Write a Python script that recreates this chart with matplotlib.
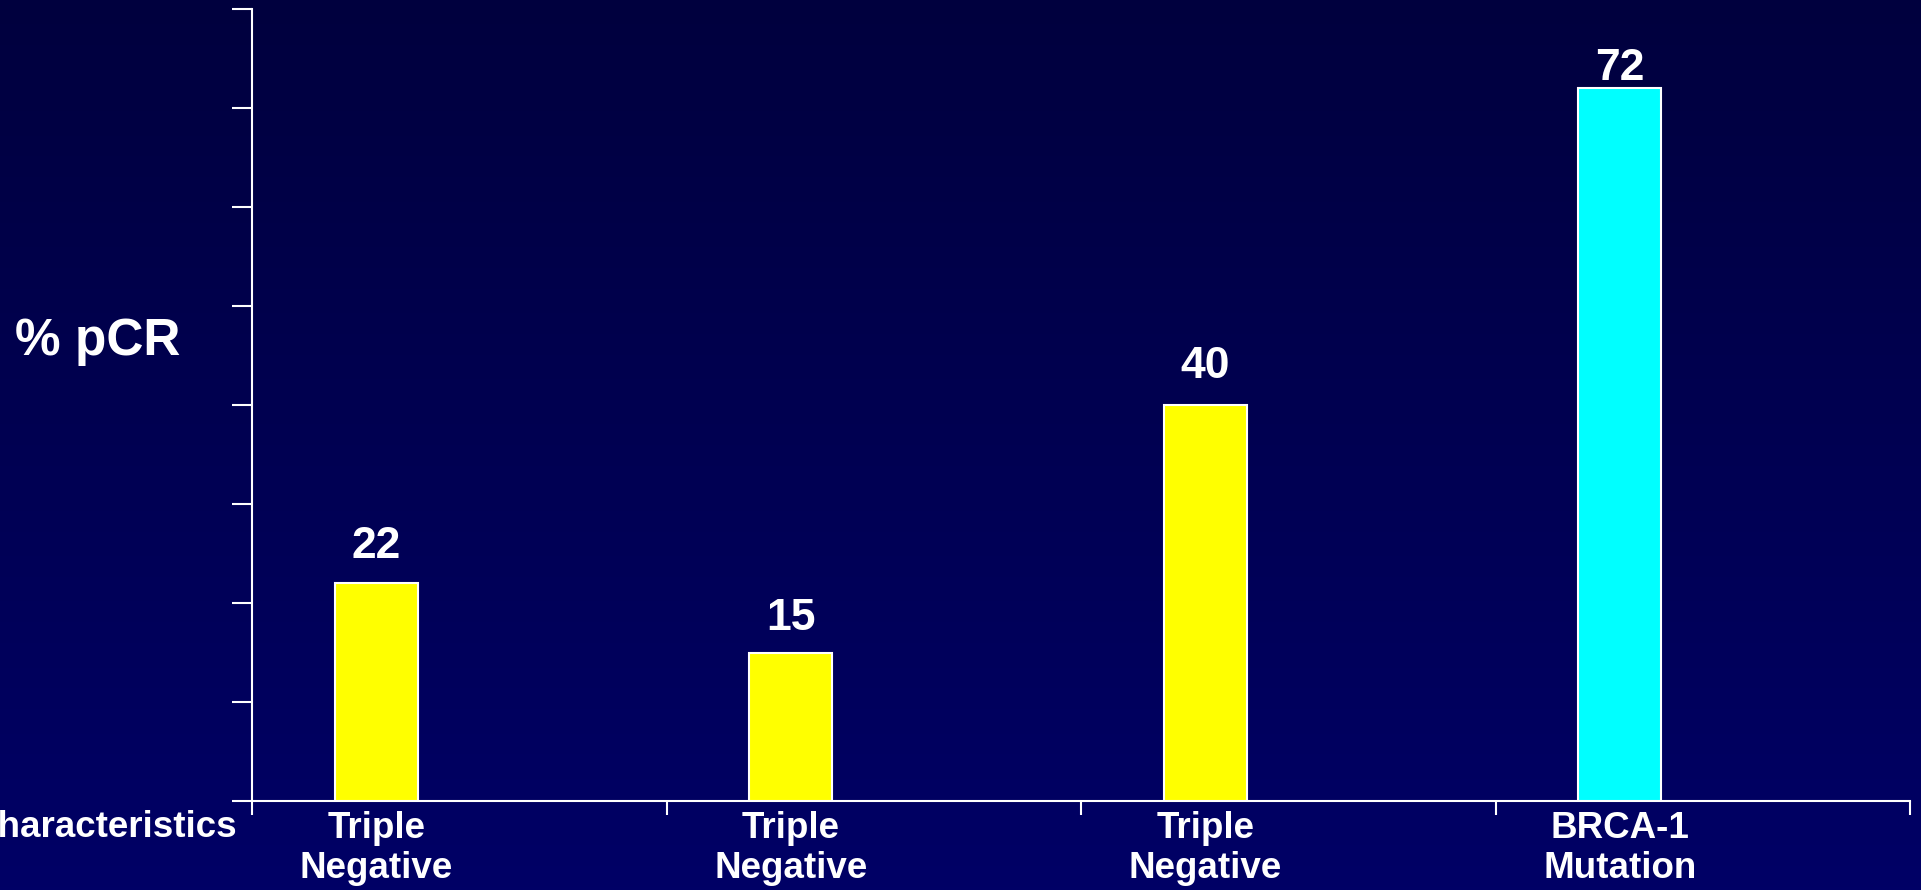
import numpy as np
import matplotlib
matplotlib.use("Agg")
import matplotlib.pyplot as plt
from matplotlib.colors import LinearSegmentedColormap

# Data
categories = ["Triple\nNegative", "Triple\nNegative", "Triple\nNegative", "BRCA-1\nMutation"]
pcr_values = [22, 15, 40, 72]
bar_colors = ["#FFFF00", "#FFFF00", "#FFFF00", "#00FFFF"]
y_ticks = [0, 10, 20, 30, 40, 50, 60, 70, 80]

# Styling
label_pad_pt = [18, 16, 19.5, 6]
font = "Liberation Sans"

fig = plt.figure(figsize=(19.21, 8.90), dpi=100)

# Dark-blue vertical gradient background
bg = fig.add_axes([0, 0, 1, 1], zorder=-10)
cmap = LinearSegmentedColormap.from_list("slide", ["#000066", "#00003E"])
grad = np.linspace(0, 1, 256).reshape(-1, 1)
bg.imshow(grad, aspect="auto", cmap=cmap, origin="lower", extent=[0, 1, 0, 1])
bg.set_axis_off()

ax = fig.add_axes([252 / 1921, 89 / 890, (1910 - 252) / 1921, (801 - 9) / 890])
ax.set_facecolor("none")

n = len(pcr_values)
cat_idx = np.arange(n)
bar_x = cat_idx - 0.2
bars = ax.bar(bar_x, pcr_values, width=0.2, color=bar_colors,
              edgecolor="white", linewidth=1.5, zorder=3)

for b, v, pad in zip(bars, pcr_values, label_pad_pt):
    ax.annotate(str(v), (b.get_x() + b.get_width() / 2, v),
                xytext=(0, pad), textcoords="offset points",
                ha="center", va="baseline", color="white",
                fontsize=32, fontweight="bold", family=font)

ax.set_xlim(-0.5, n - 0.5)
ax.set_ylim(0, 80)

ax.set_yticks(y_ticks)
ax.set_yticklabels([])
ax.tick_params(axis="y", direction="out", length=14.4, width=1.5, color="white")

ax.set_xticks(bar_x)
ax.set_xticklabels(categories, color="white", fontsize=26.5, fontweight="bold",
                   family=font, linespacing=1.2)
ax.tick_params(axis="x", which="major", length=0, pad=7)
ax.set_xticks(np.arange(-0.5, n, 1.0), minor=True)
ax.tick_params(axis="x", which="minor", direction="out", length=10,
               width=1.5, color="white")

for s in ["top", "right"]:
    ax.spines[s].set_visible(False)
for s in ["left", "bottom"]:
    ax.spines[s].set_color("white")
    ax.spines[s].set_linewidth(1.5)

fig.text(15 / 1921, (890 - 355) / 890, "% pCR", color="white", fontsize=37,
         fontweight="bold", family=font, ha="left", va="baseline")
fig.text(237 / 1921, (890 - 837) / 890, "Characteristics", color="white",
         fontsize=26.5, fontweight="bold", family=font, ha="right", va="baseline")

fig.savefig("out.png", dpi=100)
